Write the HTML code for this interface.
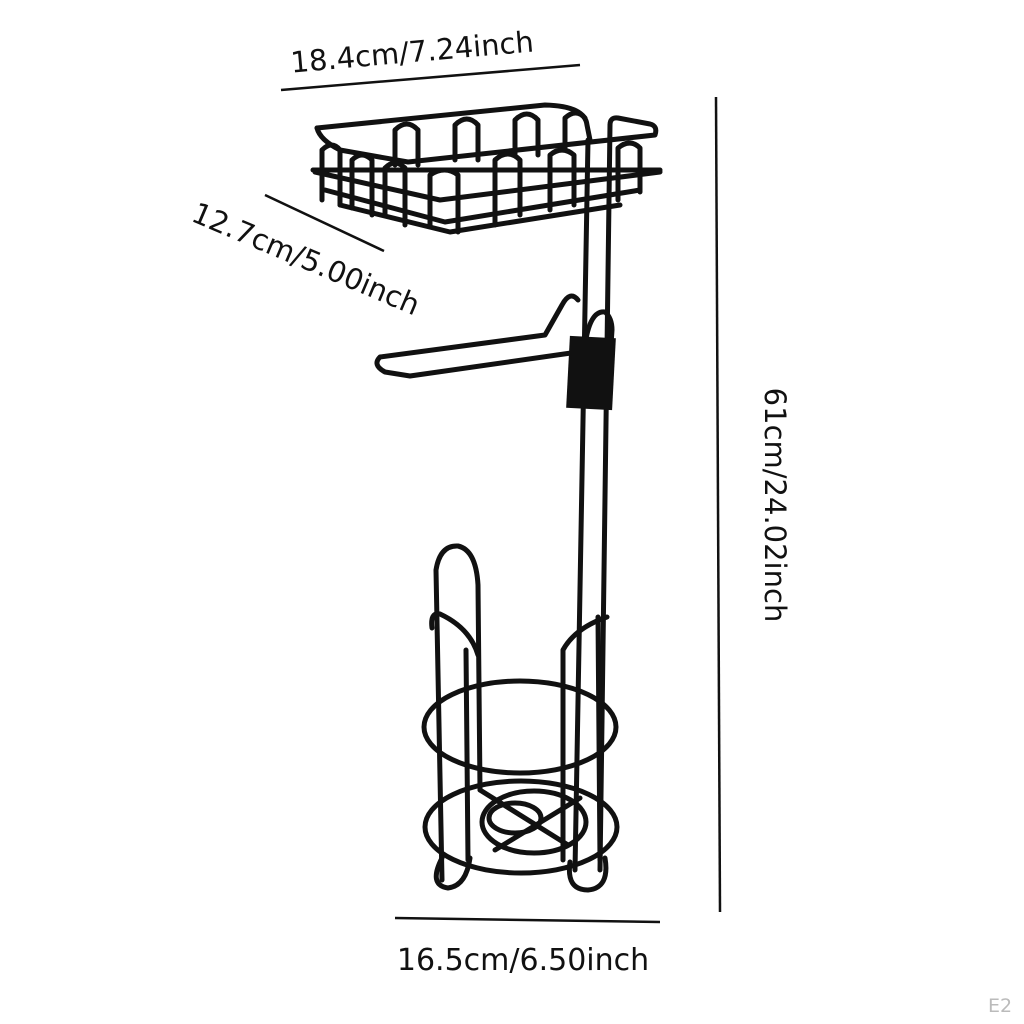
<!DOCTYPE html>
<html><head><meta charset="utf-8"><style>
html,body{margin:0;padding:0;background:#fff;width:1024px;height:1024px;overflow:hidden}
svg{display:block}
text{font-family:"DejaVu Sans","Liberation Sans",sans-serif;fill:#111}
</style></head><body>
<svg width="1024" height="1024" viewBox="0 0 1024 1024" xmlns="http://www.w3.org/2000/svg">
<g stroke="#111" stroke-width="2.5" fill="none">
<line x1="281" y1="90" x2="580" y2="65"/>
<line x1="265" y1="195" x2="384" y2="251"/>
<line x1="716" y1="97" x2="720" y2="912"/>
<line x1="395" y1="918" x2="660" y2="922"/>
</g>
<text x="413" y="62" font-size="29" text-anchor="middle" transform="rotate(-5 413 62)">18.4cm/7.24inch</text>
<text x="302" y="268" font-size="29" text-anchor="middle" transform="rotate(23 302 268)">12.7cm/5.00inch</text>
<text x="765" y="505" font-size="29" text-anchor="middle" transform="rotate(90 765 505)">61cm/24.02inch</text>
<text x="523" y="970" font-size="30" text-anchor="middle">16.5cm/6.50inch</text>
<text x="1000" y="1012" font-size="19" text-anchor="middle" style="fill:#bbb">E2</text>

<g stroke="#111" stroke-width="5" fill="none" stroke-linejoin="round" stroke-linecap="round">
<path d="M317 128 L545 105 Q585 106 587 125 L590 140"/>
<path d="M317 128 Q320 140 340 150 L408 162 L655 135 Q658 126 650 124 L618 118 Q610 117 610 125"/>
<path d="M313 170 L660 170"/>
<path d="M315 172 L440 200 L660 172"/>
<path d="M325 190 L445 222 L640 190"/>
<path d="M340 205 L450 232 L620 205"/>
<path d="M395 165 L395 130 Q407 118 418 130 L418 165"/>
<path d="M455 160 L455 125 Q467 113 478 125 L478 160"/>
<path d="M515 155 L515 120 Q527 108 538 120 L538 155"/>
<path d="M565 150 L565 118 Q576 108 585 118"/>
<path d="M322 200 L322 150 Q332 140 340 150 L340 205"/>
<path d="M352 208 L352 160 Q362 150 372 160 L372 215"/>
<path d="M385 215 L385 168 Q395 158 405 168 L405 225"/>
<path d="M430 225 L430 175 Q445 165 458 175 L458 232"/>
<path d="M495 225 L495 160 Q508 148 520 160 L520 215"/>
<path d="M550 210 L550 155 Q562 145 574 155 L574 205"/>
<path d="M618 200 L618 148 Q630 138 640 148 L640 192"/>
<path d="M588 140 L575 870"/>
<path d="M610 125 L600 870"/>
<path d="M578 300 Q570 290 562 305 L545 335 L380 357 Q372 365 385 372 L410 376 L578 352"/>
<path d="M585 345 Q590 310 605 312 Q612 318 612 330 L610 360"/>
<!-- base -->
<path d="M442 880 L436 570 Q440 545 458 546 Q476 550 478 585 L480 790"/>
<path d="M432 628 Q430 612 440 614 Q470 628 478 655"/>
<path d="M466 650 L468 860"/>
<path d="M563 860 L563 650 Q575 628 607 617"/>
<path d="M598 617 L600 860"/>
<ellipse cx="520" cy="727" rx="96" ry="46"/>
<ellipse cx="521" cy="827" rx="96" ry="46"/>
<ellipse cx="534" cy="822" rx="52" ry="31"/>
<ellipse cx="515" cy="818" rx="26" ry="15"/>
<path d="M480 790 L568 845 M495 850 L580 798"/>
<path d="M442 858 Q428 885 448 888 Q466 886 470 858"/>
<path d="M570 862 Q566 890 588 890 Q610 888 605 858"/>
</g>
<rect x="568" y="337" width="46" height="72" fill="#111" transform="rotate(3 591 373)"/>
</svg>
</body></html>
